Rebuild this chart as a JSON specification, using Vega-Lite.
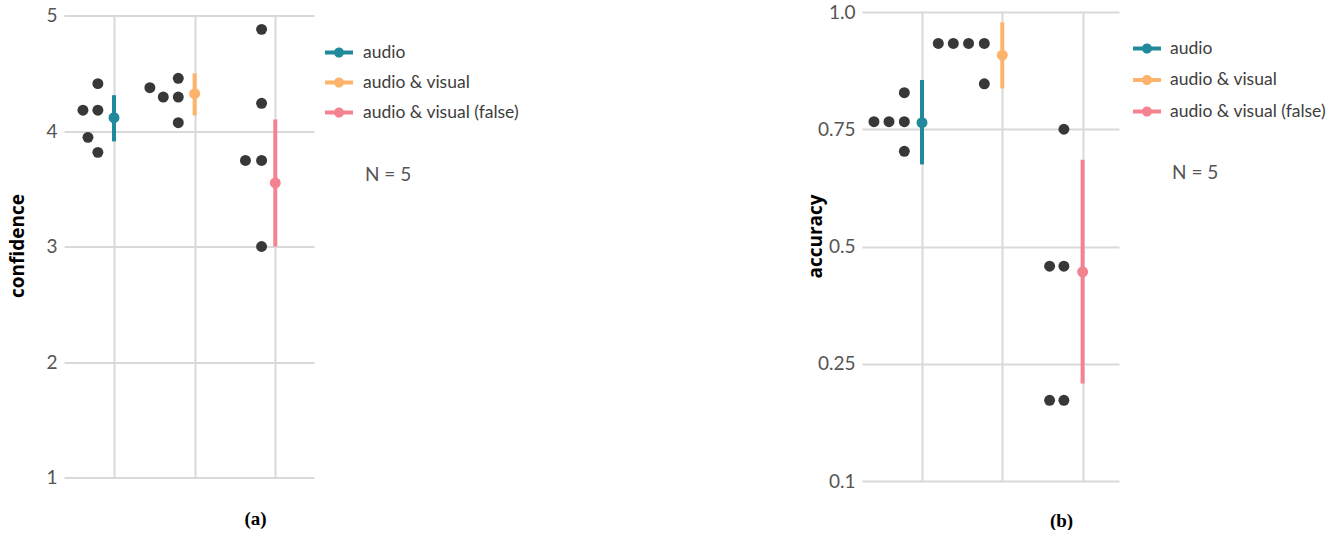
{
  "$schema": "https://vega.github.io/schema/vega-lite/v6.json",
  "padding": {"left": 8, "top": 3, "right": 0, "bottom": 0},
  "background": "white",
  "config": {
    "view": {"stroke": null},
    "font": "Lato",
    "legend": {"labelFont": "Lato"},
    "axis": {"labelFont": "Lato", "titleFont": "Open Sans"}
  },
  "datasets": {
    "dotsA": [
      {"cond": "audio", "pos": 0.80, "value": 4.41},
      {"cond": "audio", "pos": 0.615, "value": 4.18},
      {"cond": "audio", "pos": 0.80, "value": 4.18},
      {"cond": "audio", "pos": 0.677, "value": 3.945},
      {"cond": "audio", "pos": 0.80, "value": 3.815},
      {"cond": "audio & visual", "pos": 1.445, "value": 4.375},
      {"cond": "audio & visual", "pos": 1.611, "value": 4.294},
      {"cond": "audio & visual", "pos": 1.797, "value": 4.456},
      {"cond": "audio & visual", "pos": 1.797, "value": 4.294},
      {"cond": "audio & visual", "pos": 1.797, "value": 4.072},
      {"cond": "audio & visual (false)", "pos": 2.83, "value": 4.88},
      {"cond": "audio & visual (false)", "pos": 2.83, "value": 4.24},
      {"cond": "audio & visual (false)", "pos": 2.63, "value": 3.745},
      {"cond": "audio & visual (false)", "pos": 2.83, "value": 3.745},
      {"cond": "audio & visual (false)", "pos": 2.83, "value": 3.0}
    ],
    "meansA": [
      {"cond": "audio", "pos": 1, "mean": 4.115, "lo": 3.91, "hi": 4.31},
      {"cond": "audio & visual", "pos": 2, "mean": 4.323, "lo": 4.135, "hi": 4.5},
      {"cond": "audio & visual (false)", "pos": 3, "mean": 3.55, "lo": 3.0, "hi": 4.1}
    ],
    "noteA": [{"pos": 4.112, "value": 3.623, "label": "N = 5"}],
    "dotsB": [
      {"cond": "audio", "pos": 0.402, "value": 0.766},
      {"cond": "audio", "pos": 0.589, "value": 0.766},
      {"cond": "audio", "pos": 0.78, "value": 0.766},
      {"cond": "audio", "pos": 0.78, "value": 0.828},
      {"cond": "audio", "pos": 0.78, "value": 0.703},
      {"cond": "audio & visual", "pos": 1.203, "value": 0.933},
      {"cond": "audio & visual", "pos": 1.39, "value": 0.933},
      {"cond": "audio & visual", "pos": 1.58, "value": 0.933},
      {"cond": "audio & visual", "pos": 1.776, "value": 0.933},
      {"cond": "audio & visual", "pos": 1.776, "value": 0.847},
      {"cond": "audio & visual (false)", "pos": 2.767, "value": 0.75},
      {"cond": "audio & visual (false)", "pos": 2.589, "value": 0.458},
      {"cond": "audio & visual (false)", "pos": 2.767, "value": 0.458},
      {"cond": "audio & visual (false)", "pos": 2.589, "value": 0.172},
      {"cond": "audio & visual (false)", "pos": 2.767, "value": 0.172}
    ],
    "meansB": [
      {"cond": "audio", "pos": 1, "mean": 0.764, "lo": 0.675, "hi": 0.855},
      {"cond": "audio & visual", "pos": 2, "mean": 0.908, "lo": 0.837, "hi": 0.978},
      {"cond": "audio & visual (false)", "pos": 3, "mean": 0.446, "lo": 0.208, "hi": 0.685}
    ],
    "noteB": [{"pos": 4.114, "value": 0.656, "label": "N = 5"}]
  },
  "hconcat": [
    {
      "width": 250,
      "height": 462,
      "layer": [
        {
          "data": {"name": "meansA"},
          "mark": {"type": "point", "filled": true, "shape": "circle", "size": 120, "opacity": 1},
          "encoding": {
            "x": {"field": "pos", "type": "quantitative", "scale": {"domain": [0.38, 3.48], "nice": false, "zero": false},
              "axis": {"values": [1, 2, 3], "grid": true, "gridColor": "#d9d9d9", "gridWidth": 2, "labels": false, "ticks": false, "domain": false,
                "title": "(a)", "titleFont": "Liberation Serif", "titleFontWeight": "bold", "titleFontSize": 19, "titleColor": "#000",
                "titleX": 191, "titleY": 47, "titleBaseline": "alphabetic", "titleAlign": "center"}},
            "y": {"field": "mean", "type": "quantitative", "scale": {"domain": [1, 5], "nice": false, "zero": false},
              "axis": {"values": [1, 2, 3, 4, 5], "grid": true, "gridColor": "#d9d9d9", "gridWidth": 2, "ticks": false, "domain": false,
                "labelColor": "#555555", "labelFontSize": 19, "labelPadding": 7, "format": "d",
                "title": "confidence", "titleFontSize": 19, "titleFontWeight": "bold", "titleColor": "#000",
                "titleX": -47, "titleY": 230, "titleBaseline": "middle"}},
            "color": {"field": "cond", "type": "nominal",
              "scale": {"domain": ["audio", "audio & visual", "audio & visual (false)"], "range": ["#20899c", "#fdb36b", "#f5828f"]},
              "legend": {"title": null, "orient": "none", "legendX": 261, "legendY": 23, "padding": 0,
                "symbolType": "M-1,-0.14H1V0.14H-1Z M0.36,0A0.36,0.36,0,1,1,-0.36,0A0.36,0.36,0,1,1,0.36,0Z",
                "symbolSize": 784, "symbolStrokeWidth": 0, "symbolOpacity": 1, "labelFontSize": 17.5, "labelColor": "#3d3d3d",
                "labelOffset": 10, "rowPadding": 7}}
          }
        },
        {
          "data": {"name": "meansA"},
          "mark": {"type": "rule", "strokeWidth": 4},
          "encoding": {
            "x": {"field": "pos", "type": "quantitative"},
            "y": {"field": "lo", "type": "quantitative"},
            "y2": {"field": "hi"},
            "color": {"field": "cond", "type": "nominal", "legend": null}
          }
        },
        {
          "data": {"name": "dotsA"},
          "mark": {"type": "point", "filled": true, "shape": "circle", "size": 120, "opacity": 1, "color": "#383838"},
          "encoding": {
            "x": {"field": "pos", "type": "quantitative"},
            "y": {"field": "value", "type": "quantitative"}
          }
        },
        {
          "data": {"name": "noteA"},
          "mark": {"type": "text", "align": "left", "baseline": "middle", "fontSize": 19, "color": "#555555", "font": "Lato"},
          "encoding": {
            "x": {"field": "pos", "type": "quantitative"},
            "y": {"field": "value", "type": "quantitative"},
            "text": {"field": "label"}
          }
        }
      ]
    },
    {
      "width": 257,
      "height": 469,
      "layer": [
        {
          "data": {"name": "meansB"},
          "mark": {"type": "point", "filled": true, "shape": "circle", "size": 120, "opacity": 1},
          "encoding": {
            "x": {"field": "pos", "type": "quantitative", "scale": {"domain": [0.253, 3.453], "nice": false, "zero": false},
              "axis": {"values": [1, 2, 3], "grid": true, "gridColor": "#d9d9d9", "gridWidth": 2, "labels": false, "ticks": false, "domain": false,
                "title": "(b)", "titleFont": "Liberation Serif", "titleFontWeight": "bold", "titleFontSize": 19, "titleColor": "#000",
                "titleX": 199, "titleY": 45, "titleBaseline": "alphabetic", "titleAlign": "center"}},
            "y": {"field": "mean", "type": "quantitative", "scale": {"domain": [0, 1], "nice": false, "zero": false},
              "axis": {"values": [0, 0.25, 0.5, 0.75, 1], "grid": true, "gridColor": "#d9d9d9", "gridWidth": 2, "ticks": false, "domain": false,
                "labelColor": "#555555", "labelFontSize": 19, "labelPadding": 7,
                "labelExpr": "datum.value == 0 ? '0.1' : datum.value == 1 ? '1.0' : format(datum.value, '')",
                "title": "accuracy", "titleFontSize": 19, "titleFontWeight": "bold", "titleColor": "#000",
                "titleX": -47, "titleY": 224, "titleBaseline": "middle"}},
            "color": {"field": "cond", "type": "nominal",
              "scale": {"domain": ["audio", "audio & visual", "audio & visual (false)"], "range": ["#20899c", "#fdb36b", "#f5828f"]},
              "legend": {"title": null, "orient": "none", "legendX": 271, "legendY": 22.5, "padding": 0,
                "symbolType": "M-1,-0.14H1V0.14H-1Z M0.36,0A0.36,0.36,0,1,1,-0.36,0A0.36,0.36,0,1,1,0.36,0Z",
                "symbolSize": 784, "symbolStrokeWidth": 0, "symbolOpacity": 1, "labelFontSize": 17.5, "labelColor": "#3d3d3d",
                "labelOffset": 9, "rowPadding": 8.5}}
          }
        },
        {
          "data": {"name": "meansB"},
          "mark": {"type": "rule", "strokeWidth": 4},
          "encoding": {
            "x": {"field": "pos", "type": "quantitative"},
            "y": {"field": "lo", "type": "quantitative"},
            "y2": {"field": "hi"},
            "color": {"field": "cond", "type": "nominal", "legend": null}
          }
        },
        {
          "data": {"name": "dotsB"},
          "mark": {"type": "point", "filled": true, "shape": "circle", "size": 120, "opacity": 1, "color": "#383838"},
          "encoding": {
            "x": {"field": "pos", "type": "quantitative"},
            "y": {"field": "value", "type": "quantitative"}
          }
        },
        {
          "data": {"name": "noteB"},
          "mark": {"type": "text", "align": "left", "baseline": "middle", "fontSize": 19, "color": "#555555", "font": "Lato"},
          "encoding": {
            "x": {"field": "pos", "type": "quantitative"},
            "y": {"field": "value", "type": "quantitative"},
            "text": {"field": "label"}
          }
        }
      ]
    }
  ],
  "resolve": {"scale": {"x": "independent", "y": "independent", "color": "independent"}, "legend": {"color": "independent"}},
  "bounds": "flush",
  "center": true,
  "spacing": 548
}
